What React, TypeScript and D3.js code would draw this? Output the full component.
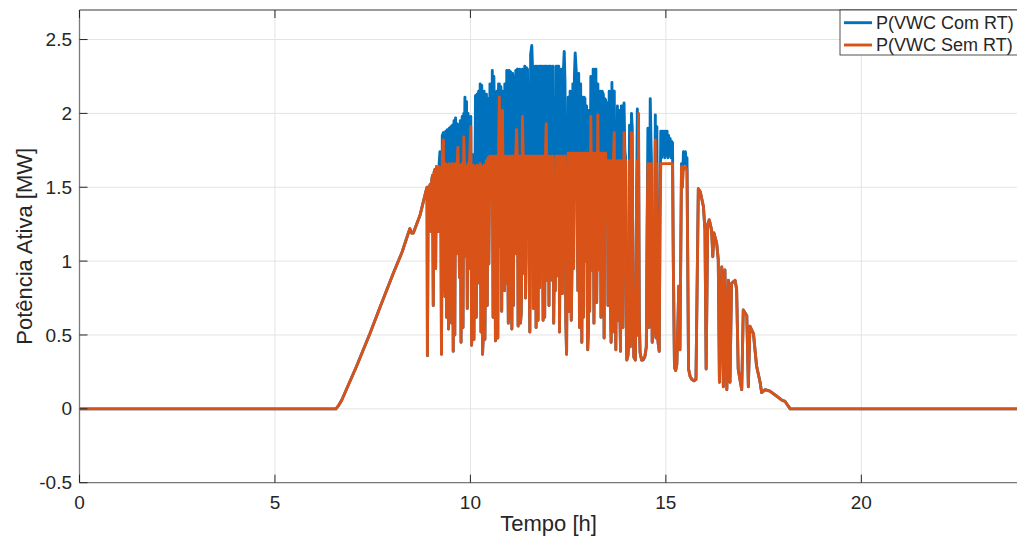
import React from 'react';
import * as d3 from 'd3';

// ---- axis ticks ----
const xTicks = [0, 5, 10, 15, 20];
const yTicks = [-0.5, 0, 0.5, 1, 1.5, 2, 2.5];
const yTickLabels = ['-0.5', '0', '0.5', '1', '1.5', '2', '2.5'];

// ---- shared morning ramp (both series identical) ----
const rampT = [0, 6.56, 6.62, 6.71, 7.09, 7.43, 7.69, 8.03, 8.25, 8.40, 8.45, 8.50, 8.54, 8.71, 8.86];
const rampP = [0, 0, 0.02, 0.06, 0.29, 0.51, 0.69, 0.92, 1.06, 1.18, 1.22, 1.19, 1.19, 1.31, 1.47];

// ---- midday transients: time [h] ----
const midT = [
  8.89, 8.90, 8.92, 8.95, 8.97, 8.99, 9.01, 9.03, 9.05, 9.07,
  9.09, 9.11, 9.13, 9.16, 9.18, 9.20, 9.22, 9.24, 9.26, 9.28,
  9.31, 9.32, 9.34, 9.35, 9.37, 9.39, 9.41, 9.43, 9.44, 9.46,
  9.48, 9.50, 9.52, 9.53, 9.54, 9.56, 9.58, 9.60, 9.62, 9.64,
  9.66, 9.68, 9.70, 9.72, 9.74, 9.76, 9.78, 9.79, 9.81, 9.83,
  9.85, 9.86, 9.88, 9.90, 9.92, 9.94, 9.96, 9.98, 10.01, 10.03,
  10.05, 10.07, 10.09, 10.11, 10.13, 10.15, 10.17, 10.19, 10.21, 10.23,
  10.25, 10.27, 10.29, 10.31, 10.33, 10.35, 10.37, 10.39, 10.41, 10.43,
  10.45, 10.47, 10.50, 10.52, 10.54, 10.56, 10.58, 10.60, 10.62, 10.64,
  10.66, 10.68, 10.70, 10.72, 10.74, 10.76, 10.78, 10.80, 10.82, 10.85,
  10.87, 10.88, 10.90, 10.93, 10.95, 10.97, 10.99, 11.01, 11.03, 11.05,
  11.06, 11.08, 11.10, 11.12, 11.14, 11.16, 11.18, 11.20, 11.22, 11.24,
  11.26, 11.28, 11.30, 11.32, 11.33, 11.35, 11.37, 11.39, 11.41, 11.43,
  11.46, 11.48, 11.50, 11.52, 11.54, 11.57, 11.59, 11.61, 11.63, 11.66,
  11.68, 11.70, 11.72, 11.73, 11.75, 11.77, 11.79, 11.82, 11.84, 11.86,
  11.88, 11.90, 11.92, 11.94, 11.97, 11.99, 12.01, 12.03, 12.05, 12.07,
  12.09, 12.11, 12.13, 12.15, 12.17, 12.19, 12.21, 12.23, 12.26, 12.28,
  12.30, 12.33, 12.35, 12.38, 12.40, 12.42, 12.44, 12.46, 12.48, 12.50,
  12.52, 12.55, 12.57, 12.58, 12.60, 12.62, 12.64, 12.66, 12.68, 12.71,
  12.73, 12.75, 12.77, 12.79, 12.82, 12.84, 12.85, 12.87, 12.89, 12.91,
  12.93, 12.95, 12.97, 12.99, 13.00, 13.02, 13.03, 13.05, 13.08, 13.10,
  13.12, 13.14, 13.16, 13.19, 13.21, 13.23, 13.26, 13.28, 13.30, 13.32,
  13.34, 13.37, 13.40, 13.42, 13.44, 13.46, 13.48, 13.50, 13.52, 13.55,
  13.57, 13.59, 13.60, 13.62, 13.64, 13.66, 13.68, 13.70, 13.72, 13.74,
  13.76, 13.78, 13.80, 13.82, 13.84, 13.86, 13.88, 13.90, 13.93, 13.95,
  13.97, 13.99, 14.00, 14.03, 14.05, 14.07, 14.09, 14.12, 14.14, 14.16,
  14.18, 14.22, 14.25, 14.27, 14.28, 14.30, 14.32, 14.34, 14.38, 14.42,
  14.46, 14.50, 14.52, 14.54, 14.57, 14.60, 14.62, 14.63, 14.65, 14.67,
  14.70, 14.72, 14.73, 14.75, 14.77, 14.79, 14.80, 14.83, 14.85, 14.87,
  14.89, 14.91, 14.93, 14.95, 14.97, 14.99, 15.01, 15.03, 15.05, 15.07,
  15.09, 15.11, 15.13, 15.15, 15.17, 15.19, 15.22, 15.25, 15.28, 15.31,
  15.33, 15.36, 15.40, 15.42, 15.45, 15.47, 15.50, 15.52, 15.54, 15.58,
  15.62, 15.66, 15.72, 15.77,
];
// P(VWC Com RT) [MW]
const midCom = [
  1.50, 0.36, 1.49, 1.50, 1.52, 1.20, 1.55, 1.58, 0.70, 1.60,
  1.62, 0.95, 1.64, 1.63, 1.20, 1.66, 1.74, 1.65, 0.37, 1.85,
  1.87, 0.80, 1.86, 0.76, 1.88, 0.62, 1.89, 1.30, 0.54, 1.90,
  0.72, 1.91, 0.58, 1.10, 1.92, 0.39, 1.95, 0.50, 1.97, 1.05,
  1.93, 1.92, 1.40, 0.89, 1.95, 0.45, 1.60, 1.98, 0.55, 2.00,
  1.90, 2.11, 1.03, 2.08, 0.68, 2.00, 0.95, 1.95, 1.98, 0.43,
  0.60, 1.72, 0.47, 1.40, 2.12, 0.62, 2.13, 1.70, 2.15, 0.85,
  2.20, 0.52, 2.19, 0.37, 0.50, 2.15, 0.47, 1.20, 2.13, 0.70,
  2.10, 0.98, 2.20, 1.85, 1.41, 2.29, 0.62, 2.25, 1.90, 0.46,
  0.60, 2.15, 0.48, 2.20, 2.20, 1.10, 2.18, 0.66, 2.15, 1.01,
  0.80, 2.20, 0.85, 2.29, 1.30, 0.58, 2.29, 0.62, 2.28, 0.90,
  0.54, 2.27, 0.70, 2.25, 1.05, 2.29, 2.29, 2.30, 0.56, 0.75,
  2.30, 0.58, 0.65, 1.20, 2.30, 1.80, 0.92, 2.32, 0.75, 2.31,
  2.30, 1.76, 1.00, 0.52, 2.40, 2.46, 2.30, 0.68, 1.72, 2.32,
  0.55, 2.32, 1.00, 0.60, 2.32, 0.82, 2.32, 2.32, 1.30, 0.60,
  2.32, 0.62, 2.32, 2.32, 0.87, 2.32, 0.70, 2.32, 2.32, 1.40,
  0.87, 2.32, 0.58, 1.10, 0.80, 2.32, 0.90, 2.32, 2.32, 0.52,
  1.75, 2.30, 0.78, 2.30, 2.42, 2.20, 0.60, 0.37, 1.30, 2.11,
  0.66, 2.15, 1.20, 0.60, 1.00, 2.20, 0.95, 2.25, 2.41, 2.27,
  1.40, 0.80, 2.27, 0.55, 2.20, 0.80, 0.45, 2.11, 0.62, 2.11,
  2.10, 1.00, 2.05, 0.70, 0.40, 0.55, 2.02, 0.66, 2.25, 1.40,
  0.94, 2.30, 0.58, 2.30, 2.30, 0.72, 2.20, 1.30, 0.94, 2.15,
  0.62, 2.15, 2.13, 0.48, 2.10, 2.09, 1.30, 2.07, 0.70, 2.15,
  1.00, 0.60, 0.45, 2.21, 0.52, 2.15, 2.15, 0.90, 0.40, 1.20,
  2.05, 0.60, 2.02, 0.70, 0.39, 2.05, 2.05, 0.55, 2.07, 1.75,
  1.70, 0.50, 0.33, 0.36, 0.45, 1.92, 0.42, 2.00, 1.90, 0.70,
  0.35, 0.33, 1.40, 2.03, 0.50, 1.95, 0.60, 0.38, 0.33, 0.33,
  0.35, 0.42, 1.20, 1.90, 0.55, 2.10, 1.80, 1.70, 0.45, 0.50,
  0.58, 1.50, 1.99, 0.48, 1.91, 0.60, 0.45, 0.39, 1.30, 1.88,
  1.70, 1.88, 1.72, 1.88, 1.70, 1.88, 1.72, 1.88, 1.70, 1.85,
  1.72, 1.83, 1.70, 1.81, 1.80, 1.00, 0.28, 0.26, 0.30, 0.60,
  0.83, 0.40, 1.66, 1.50, 1.74, 1.66, 1.74, 1.66, 1.70, 0.27,
  0.22, 0.20, 0.19, 0.20,
];
// P(VWC Sem RT) [MW]
const midSem = [
  1.50, 0.36, 1.49, 1.50, 1.52, 1.20, 1.55, 1.58, 0.70, 1.60,
  1.62, 0.95, 1.64, 1.63, 1.20, 1.64, 1.62, 1.60, 0.37, 1.70,
  1.82, 0.80, 1.65, 0.76, 1.66, 0.62, 1.65, 1.30, 0.54, 1.66,
  0.72, 1.64, 0.58, 1.10, 1.66, 0.39, 1.65, 0.50, 1.66, 1.05,
  1.64, 1.77, 1.40, 0.89, 1.65, 0.45, 1.60, 1.66, 0.55, 1.84,
  1.65, 1.65, 1.03, 1.64, 0.68, 1.66, 0.95, 1.70, 1.91, 0.43,
  0.60, 1.65, 0.47, 1.40, 1.64, 0.62, 1.65, 1.62, 1.64, 0.85,
  1.66, 0.52, 1.64, 0.37, 0.50, 1.65, 0.47, 1.20, 1.68, 0.70,
  1.70, 0.98, 1.71, 1.71, 1.41, 1.71, 0.62, 1.71, 1.71, 0.46,
  0.60, 1.71, 0.48, 1.71, 2.11, 1.10, 1.71, 0.66, 2.02, 1.01,
  0.80, 1.71, 0.85, 1.71, 1.30, 0.58, 1.71, 0.62, 1.71, 0.90,
  0.54, 1.71, 0.70, 1.71, 1.05, 1.71, 1.89, 1.71, 0.56, 0.75,
  1.71, 0.58, 0.65, 1.20, 1.98, 1.71, 0.92, 1.71, 0.75, 1.71,
  1.71, 1.71, 1.00, 0.52, 1.71, 1.71, 1.71, 0.68, 1.71, 1.71,
  0.55, 1.71, 1.00, 0.60, 1.71, 0.82, 1.71, 1.71, 1.30, 0.60,
  1.71, 0.62, 1.71, 1.93, 0.87, 1.71, 0.70, 1.71, 1.71, 1.40,
  0.87, 1.71, 0.58, 1.10, 0.80, 1.71, 0.90, 1.71, 1.71, 0.52,
  1.71, 1.71, 0.78, 1.71, 1.71, 1.71, 0.60, 0.37, 1.30, 1.73,
  0.66, 1.73, 1.20, 0.60, 1.00, 1.73, 0.95, 1.73, 1.73, 1.73,
  1.40, 0.80, 1.73, 0.55, 1.73, 0.80, 0.45, 1.73, 0.62, 1.73,
  1.73, 1.00, 1.73, 0.70, 0.40, 0.55, 1.73, 0.66, 1.98, 1.40,
  0.94, 1.73, 0.58, 1.73, 1.73, 0.72, 1.99, 1.30, 0.94, 1.73,
  0.62, 1.73, 1.73, 0.48, 1.73, 1.73, 1.30, 1.68, 0.70, 1.68,
  1.00, 0.60, 0.45, 1.68, 0.52, 1.68, 1.87, 0.90, 0.40, 1.20,
  1.68, 0.60, 1.68, 0.70, 0.39, 1.68, 1.68, 0.55, 1.87, 1.68,
  1.68, 0.50, 0.33, 0.36, 0.45, 1.68, 0.42, 1.87, 1.68, 0.70,
  0.35, 0.33, 1.40, 1.68, 0.50, 2.00, 0.60, 0.38, 0.33, 0.34,
  0.35, 0.42, 1.20, 1.66, 0.55, 1.66, 1.66, 1.66, 0.45, 0.50,
  0.58, 1.50, 1.82, 0.48, 1.66, 0.60, 0.45, 0.39, 1.30, 1.66,
  1.66, 1.66, 1.66, 1.66, 1.66, 1.66, 1.66, 1.66, 1.66, 1.66,
  1.66, 1.66, 1.66, 1.66, 1.66, 1.00, 0.28, 0.26, 0.30, 0.60,
  0.83, 0.40, 1.64, 1.50, 1.64, 1.64, 1.64, 1.62, 1.62, 0.27,
  0.22, 0.20, 0.19, 0.20,
];

// ---- shared afternoon decline (both series identical) ----
const tailT = [
  15.83, 15.88, 15.96, 16.00, 16.03, 16.07, 16.11, 16.17, 16.20, 16.23, 16.30, 16.34, 16.37, 16.43, 16.47, 16.51, 16.56, 16.60, 16.64, 16.68,
  16.77, 16.81, 16.85, 16.94, 16.98, 17.07, 17.11, 17.15, 17.24, 17.32, 17.41, 17.45, 17.54, 17.66, 17.84, 17.96, 18.05, 18.18, 24,
];
const tailP = [
  1.49, 1.47, 1.37, 1.21, 0.27, 1.25, 1.28, 1.21, 1.03, 1.19, 1.12, 1.01, 0.18, 0.96, 0.15, 0.94, 0.13, 0.87, 0.18, 0.85,
  0.87, 0.81, 0.27, 0.13, 0.67, 0.63, 0.15, 0.56, 0.51, 0.29, 0.18, 0.11, 0.13, 0.12, 0.085, 0.06, 0.05, 0, 0,
];

const seriesNames = ['P(VWC Com RT)', 'P(VWC Sem RT)'];
const seriesColors = ['#0072BD', '#D95319'];

type Pt = [number, number];

export default function App() {
  const W = 1017;
  const H = 540;
  const left = 79.5, right = 1017.7, top = 10, bottom = 482.7;
  const x = d3.scaleLinear().domain([0, 24]).range([left, right]);
  const y = d3.scaleLinear().domain([-0.5, 2.7]).range([bottom, top]);

  const n = Math.min(midT.length, midCom.length, midSem.length);
  const ramp: Pt[] = rampT.map((t, i) => [t, rampP[i]]);
  const tail: Pt[] = tailT.map((t, i) => [t, tailP[i]]);
  const midC: Pt[] = [];
  const midS: Pt[] = [];
  for (let i = 0; i < n; i++) {
    midC.push([midT[i], midCom[i]]);
    midS.push([midT[i], midSem[i]]);
  }
  const com: Pt[] = [...ramp, ...midC, ...tail];
  const sem: Pt[] = [...ramp, ...midS, ...tail];

  const line = d3.line<Pt>().x(d => x(d[0])).y(d => y(d[1]));
  const font = '"Liberation Sans", Arial, Helvetica, sans-serif';
  const txt = '#262626';
  const grid = '#e3e3e3';
  const axisCol = '#7a7a7a';
  const lw = 2.9;

  return (
    <div style={{ position: 'absolute', left: 0, top: 0 }}>
      <svg width={W} height={H} style={{ display: 'block', background: '#fff' }} fontFamily={font}>
        <defs>
          <clipPath id="plot">
            <rect x={left} y={top} width={right - left} height={bottom - top} />
          </clipPath>
        </defs>
        {/* grid */}
        {xTicks.map(t => (
          <line key={'gx' + t} x1={x(t)} x2={x(t)} y1={top} y2={bottom} stroke={grid} strokeWidth={1} />
        ))}
        {yTicks.map(t => (
          <line key={'gy' + t} x1={left} x2={right} y1={y(t)} y2={y(t)} stroke={grid} strokeWidth={1} />
        ))}
        {/* data */}
        <g clipPath="url(#plot)" fill="none" strokeLinejoin="round" strokeLinecap="round">
          <path d={line(com) || ''} stroke={seriesColors[0]} strokeWidth={lw} />
          <path d={line(sem) || ''} stroke={seriesColors[1]} strokeWidth={lw} />
        </g>
        {/* axes box */}
        <line x1={left} x2={right} y1={bottom} y2={bottom} stroke={axisCol} strokeWidth={1.3} />
        <line x1={left} x2={left} y1={top} y2={bottom} stroke={axisCol} strokeWidth={1.3} />
        <line x1={left} x2={right} y1={top} y2={top} stroke={axisCol} strokeWidth={1.3} />
        {/* ticks */}
        {xTicks.map(t => (
          <g key={'tx' + t}>
            <line x1={x(t)} x2={x(t)} y1={bottom} y2={bottom - 8} stroke={txt} strokeWidth={1} />
            <line x1={x(t)} x2={x(t)} y1={top} y2={top + 8} stroke={txt} strokeWidth={1} />
            <text x={x(t)} y={509} textAnchor="middle" fontSize={19} fill={txt}>{t}</text>
          </g>
        ))}
        {yTicks.map((t, i) => (
          <g key={'ty' + t}>
            <line x1={left} x2={left + 8} y1={y(t)} y2={y(t)} stroke={txt} strokeWidth={1} />
            <text x={72} y={y(t)} dy="0.35em" textAnchor="end" fontSize={19} fill={txt}>{yTickLabels[i]}</text>
          </g>
        ))}
        {/* axis labels */}
        <text x={(left + right) / 2} y={531} textAnchor="middle" fontSize={22} fill={txt}>Tempo [h]</text>
        <text transform={`translate(32, ${(top + bottom) / 2}) rotate(-90)`} textAnchor="middle" fontSize={22} fill={txt}>
          Potência Ativa [MW]
        </text>
        {/* legend */}
        <rect x={840} y={top} width={190} height={45} fill="#fff" stroke={txt} strokeWidth={0.8} />
        {seriesNames.map((s, i) => (
          <g key={s}>
            <line x1={844} x2={872} y1={22.7 + i * 22.3} y2={22.7 + i * 22.3} stroke={seriesColors[i]} strokeWidth={lw} />
            <text x={876} y={22.7 + i * 22.3} dy="0.35em" fontSize={18} fill={txt}>{s}</text>
          </g>
        ))}
      </svg>
    </div>
  );
}
